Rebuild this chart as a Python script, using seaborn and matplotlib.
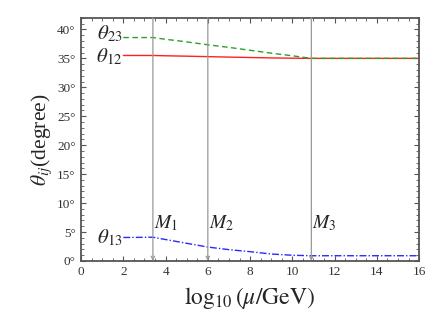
import matplotlib

matplotlib.use("Agg")
import matplotlib.pyplot as plt
import numpy as np
import pandas as pd
import seaborn as sns
from matplotlib.ticker import FuncFormatter, MultipleLocator

# ---------------------------------------------------------------------------
# Data (running of mixing angles)
# ---------------------------------------------------------------------------

mu_log = [2.0, 3.4, 4.0, 5.0, 6.0, 7.0, 8.0, 9.0, 10.0, 10.9, 12.0, 14.0, 16.0]
theta23 = [38.6, 38.6, 38.3, 37.85, 37.35, 36.9, 36.4, 35.9, 35.45, 35.0, 35.0, 35.0, 35.0]
theta12 = [35.5, 35.5, 35.45, 35.38, 35.3, 35.22, 35.15, 35.08, 35.03, 35.0, 35.0, 35.0, 35.0]
theta13 = [4.05, 4.1, 3.7, 3.05, 2.4, 1.95, 1.6, 1.2, 0.98, 0.9, 0.9, 0.9, 0.9]

thresholds = [3.4, 6.0, 10.9]
threshold_labels = [r"$M_1$", r"$M_2$", r"$M_3$"]
curve_labels = [r"$\theta_{23}$", r"$\theta_{12}$", r"$\theta_{13}$"]
label_y = [38.3, 34.4, 3.1]

df = pd.DataFrame(
    {"mu": mu_log, "theta23": theta23, "theta12": theta12, "theta13": theta13}
)

# ---------------------------------------------------------------------------
# Style
# ---------------------------------------------------------------------------

sns.set_style("ticks")
plt.rcParams["font.family"] = ["Liberation Serif", "DejaVu Serif"]
plt.rcParams["mathtext.fontset"] = "stix"
frame_col = "#555555"

fig = plt.figure(figsize=(4.43, 3.19), dpi=100)
ax = fig.add_axes([0.183, 0.182, 0.763, 0.762])

sns.lineplot(data=df, x="mu", y="theta12", ax=ax, color="#ff2020", lw=1.0)
sns.lineplot(data=df, x="mu", y="theta23", ax=ax, color="#2aa02a", lw=1.0,
             linestyle=(0, (4, 2.5)))
sns.lineplot(data=df, x="mu", y="theta13", ax=ax, color="#2a2aff", lw=1.0,
             linestyle=(0, (5, 1.5, 1, 1.5)))

for xv, lab in zip(thresholds, threshold_labels):
    ax.annotate("", xy=(xv, 0), xytext=(xv, 42),
                arrowprops=dict(arrowstyle="->", color="#999999", lw=0.9,
                                mutation_scale=6, shrinkA=0, shrinkB=0))
    ax.text(xv + 0.05, 5.6, lab, fontsize=14, ha="left", va="baseline")

for lab, yv in zip(curve_labels, label_y):
    ax.text(1.95, yv, lab, fontsize=15, ha="right", va="baseline")

ax.set_xlim(0, 16)
ax.set_ylim(0, 42)
ax.xaxis.set_major_locator(MultipleLocator(2))
ax.xaxis.set_minor_locator(MultipleLocator(0.5))
ax.yaxis.set_major_locator(MultipleLocator(5))
ax.yaxis.set_minor_locator(MultipleLocator(1))
ax.yaxis.set_major_formatter(FuncFormatter(lambda v, _: f"{v:.0f}°"))

ax.tick_params(which="both", direction="in", top=True, right=True,
               color=frame_col, labelsize=9.5, labelcolor="#333333", pad=4)
ax.tick_params(which="major", length=3.5, width=0.8)
ax.tick_params(which="minor", length=2, width=0.6)
ax.tick_params(axis="x", labeltop=False)
ax.tick_params(axis="y", labelright=False)
for s in ax.spines.values():
    s.set_color(frame_col)
    s.set_linewidth(1.3)

ax.set_xlabel(r"$\log_{10}(\mu/\mathrm{GeV})$", fontsize=17, labelpad=5)
ax.set_ylabel(r"$\theta_{ij}$(degree)", fontsize=15.5, labelpad=2)

fig.savefig("out.png", dpi=100)
